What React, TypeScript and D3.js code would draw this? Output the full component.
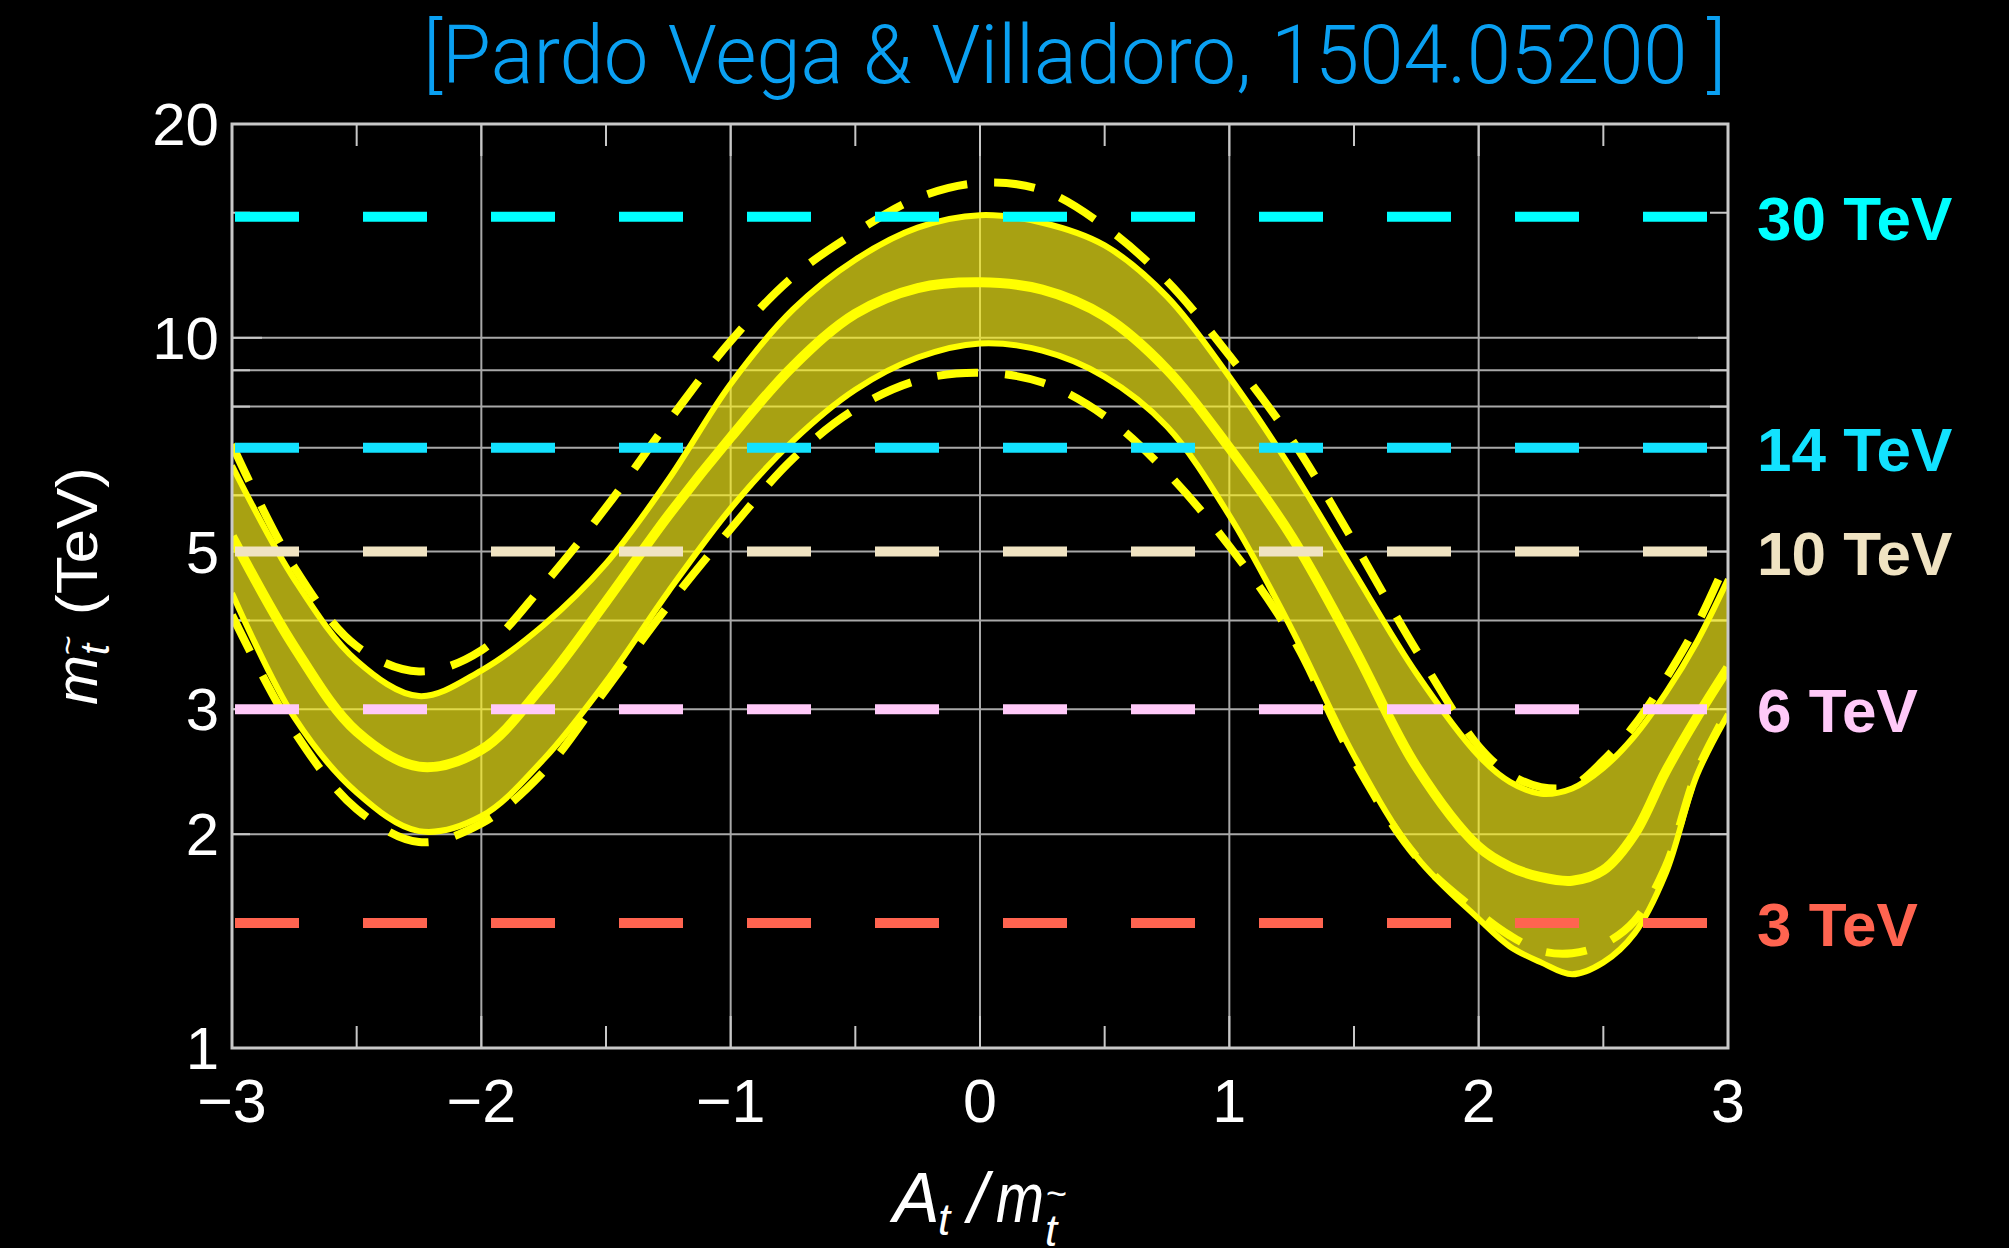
import React, { useEffect } from "react";
import * as d3 from "d3";

const W = 2009;
const H = 1248;

// A_t / m_stop sample positions
const aOverM = [-3, -2.75, -2.5, -2.25, -2, -1.75, -1.5, -1.25, -1, -0.75, -0.5, -0.25, 0, 0.25, 0.5, 0.75, 1, 1.25, 1.5, 1.75, 2, 2.125, 2.25, 2.375, 2.5, 2.625, 2.75, 2.875, 3];
// stop mass (TeV) curves
const centralTeV = [5.25, 3.67, 2.79, 2.49, 2.63, 3.25, 4.25, 5.62, 7.24, 9.12, 10.81, 11.75, 11.97, 11.69, 10.72, 9.02, 7.0, 5.25, 3.66, 2.49, 1.92, 1.8, 1.74, 1.72, 1.78, 2.0, 2.45, 2.92, 3.43];
const upperTeV = [6.61, 4.57, 3.51, 3.13, 3.4, 3.94, 4.81, 6.31, 8.61, 10.96, 12.88, 14.29, 14.88, 14.52, 13.49, 11.43, 8.81, 6.53, 4.68, 3.37, 2.58, 2.37, 2.28, 2.32, 2.48, 2.75, 3.16, 3.73, 4.57];
const lowerTeV = [4.37, 2.92, 2.29, 2.02, 2.12, 2.55, 3.28, 4.39, 5.75, 7.16, 8.45, 9.38, 9.82, 9.59, 8.81, 7.5, 5.62, 3.89, 2.58, 1.86, 1.52, 1.39, 1.32, 1.27, 1.32, 1.45, 1.76, 2.42, 2.95];
const upperDashedTeV = [7.08, 4.75, 3.68, 3.39, 3.63, 4.49, 5.77, 7.62, 9.89, 12.19, 14.06, 15.74, 16.52, 16.14, 14.35, 12.02, 9.44, 7.19, 5.15, 3.63, 2.66, 2.43, 2.33, 2.34, 2.54, 2.85, 3.31, 3.94, 4.9];
const lowerDashedTeV = [4.07, 2.79, 2.17, 1.95, 2.07, 2.45, 3.2, 4.2, 5.38, 6.76, 7.94, 8.71, 8.93, 8.65, 7.76, 6.46, 5.09, 3.8, 2.54, 1.86, 1.55, 1.44, 1.37, 1.36, 1.4, 1.51, 1.8, 2.45, 2.99];

// collider reach lines
const colliderLabels = ["30 TeV", "14 TeV", "10 TeV", "6 TeV", "3 TeV"];
const colliderReachTeV = [14.8, 7, 5, 3, 1.5];
const colliderColors = ["#00ffff", "#12e2ff", "#f0e3c2", "#ffc9f8", "#ff6450"];

// axes
const yTickValues = [1, 2, 3, 5, 10, 20];
const yGridValues = [2, 3, 4, 5, 6, 7, 8, 9, 10];
const yMinorTickValues = [15];
const xTickValues = [-3, -2, -1, 0, 1, 2, 3];
const xGridValues = [-2, -1, 0, 1, 2];
const xMinorTickValues = [-2.5, -1.5, -0.5, 0.5, 1.5, 2.5];
const titleText = "[Pardo Vega & Villadoro, 1504.05200 ]";

const SANS = "'Liberation Sans', Arial, Helvetica, sans-serif";

export default function App() {
  useEffect(() => {
    document.body.style.margin = "0";
    document.body.style.background = "#000";
    document.body.style.overflow = "hidden";
  }, []);

  const left = 232, right = 1728, top = 124, bottom = 1048;
  const x = d3.scaleLinear().domain([-3, 3]).range([left, right]);
  const y = d3.scaleLog().domain([1, 20]).range([bottom, top]);

  const pts = (vals: number[]) => aOverM.map((a, i) => [x(a), y(vals[i])] as [number, number]);
  const curve = d3.curveCatmullRom.alpha(0.5);
  const line = d3.line<[number, number]>().curve(curve);
  const area = d3
    .area<[number, number, number]>()
    .x((d) => d[0])
    .y0((d) => d[1])
    .y1((d) => d[2])
    .curve(curve);

  const bandData = aOverM.map((a, i) => [x(a), y(lowerTeV[i]), y(upperTeV[i])] as [number, number, number]);

  const grid = "#a8a8a8";
  const frame = "#c8c8c8";
  const yellow = "#ffff00";

  return (
    <svg width={W} height={H} style={{ position: "absolute", left: 0, top: 0, display: "block" }} xmlns="http://www.w3.org/2000/svg">
      <defs>
        <clipPath id="plotClip">
          <rect x={left} y={top} width={right - left} height={bottom - top} />
        </clipPath>
      </defs>
      <rect x={0} y={0} width={W} height={H} fill="#000" />

      {/* title */}
      <text x={423} y={83} fill="#0aa0f2" fontFamily="Roboto, 'Liberation Sans', sans-serif" fontWeight={300} fontSize={82} textLength={1303} lengthAdjust="spacingAndGlyphs">
        {titleText}
      </text>

      {/* gridlines */}
      <g stroke={grid} strokeWidth={2}>
        {xGridValues.map((v) => (
          <line key={"gx" + v} x1={x(v)} x2={x(v)} y1={top} y2={bottom} />
        ))}
        {yGridValues.map((v) => (
          <line key={"gy" + v} x1={left} x2={right} y1={y(v)} y2={y(v)} />
        ))}
      </g>

      {/* ticks */}
      <g stroke={frame} strokeWidth={2}>
        {xTickValues.map((v) => (
          <g key={"tx" + v}>
            <line x1={x(v)} x2={x(v)} y1={bottom} y2={bottom - 32} />
            <line x1={x(v)} x2={x(v)} y1={top} y2={top + 32} />
          </g>
        ))}
        {xMinorTickValues.map((v) => (
          <g key={"tmx" + v}>
            <line x1={x(v)} x2={x(v)} y1={bottom} y2={bottom - 22} />
            <line x1={x(v)} x2={x(v)} y1={top} y2={top + 22} />
          </g>
        ))}
        {yGridValues.concat(yMinorTickValues).map((v) => (
          <g key={"ty" + v}>
            <line x1={left} x2={left + (v === 10 ? 30 : 18)} y1={y(v)} y2={y(v)} />
            <line x1={right} x2={right - (v === 10 ? 30 : 18)} y1={y(v)} y2={y(v)} />
          </g>
        ))}
      </g>

      <g clipPath="url(#plotClip)">
        {/* band */}
        <path d={area(bandData) || ""} fill="rgb(255,245,28)" fillOpacity={0.66} stroke="none" />
        {/* dashed outer curves */}
        <path d={line(pts(upperDashedTeV)) || ""} fill="none" stroke={yellow} strokeWidth={8} strokeDasharray="41 27" />
        <path d={line(pts(lowerDashedTeV)) || ""} fill="none" stroke={yellow} strokeWidth={8} strokeDasharray="41 27" />
        {/* solid band edges */}
        <path d={line(pts(upperTeV)) || ""} fill="none" stroke={yellow} strokeWidth={6} />
        <path d={line(pts(lowerTeV)) || ""} fill="none" stroke={yellow} strokeWidth={6} />
        {/* central */}
        <path d={line(pts(centralTeV)) || ""} fill="none" stroke={yellow} strokeWidth={10} />

        {/* collider reach lines */}
        {colliderReachTeV.map((v, i) => (
          <line
            key={"c" + i}
            x1={left + 3}
            x2={right}
            y1={y(v)}
            y2={y(v)}
            stroke={colliderColors[i]}
            strokeWidth={10}
            strokeDasharray="64 64"
          />
        ))}
      </g>

      {/* frame */}
      <rect x={left} y={top} width={right - left} height={bottom - top} fill="none" stroke={frame} strokeWidth={3} />

      {/* collider labels */}
      {colliderLabels.map((t, i) => (
        <text key={"cl" + i} x={1757} y={y(colliderReachTeV[i]) + 23} fill={colliderColors[i]} fontFamily={SANS} fontWeight={700} fontSize={62}>
          {t}
        </text>
      ))}

      {/* y tick labels */}
      {yTickValues.map((v) => (
        <text key={"yl" + v} x={219} y={y(v) + 21} fill="#fff" fontFamily={SANS} fontSize={60} textAnchor="end">
          {String(v)}
        </text>
      ))}

      {/* x tick labels */}
      {xTickValues.map((v) => (
        <text key={"xl" + v} x={x(v)} y={1122} fill="#fff" fontFamily={SANS} fontSize={61} textAnchor="middle">
          {v < 0 ? "\u2212" + Math.abs(v) : String(v)}
        </text>
      ))}

      {/* x axis label */}
      <g fill="#fff" fontFamily={SANS} fontStyle="italic">
        <text x={893} y={1222} fontSize={70}>A</text>
        <text x={938} y={1235} fontSize={44}>t</text>
        <text x={968} y={1222} fontSize={70}>/</text>
        <text x={996} y={1222} fontSize={70} textLength={48} lengthAdjust="spacingAndGlyphs">m</text>
        <text x={1046} y={1206} fontSize={36} fontStyle="normal">~</text>
        <text x={1045} y={1246} fontSize={44}>t</text>
      </g>

      {/* y axis label */}
      <g transform="translate(97,0) rotate(-90)" fill="#fff" fontFamily={SANS}>
        <text x={-705} y={0} fontSize={60} fontStyle="italic">m</text>
        <text x={-655} y={12} fontSize={40} fontStyle="italic">t</text>
        <text x={-655} y={-18} fontSize={34}>~</text>
        <text x={-615} y={0} fontSize={58} textLength={148} lengthAdjust="spacingAndGlyphs">(TeV)</text>
      </g>
    </svg>
  );
}
